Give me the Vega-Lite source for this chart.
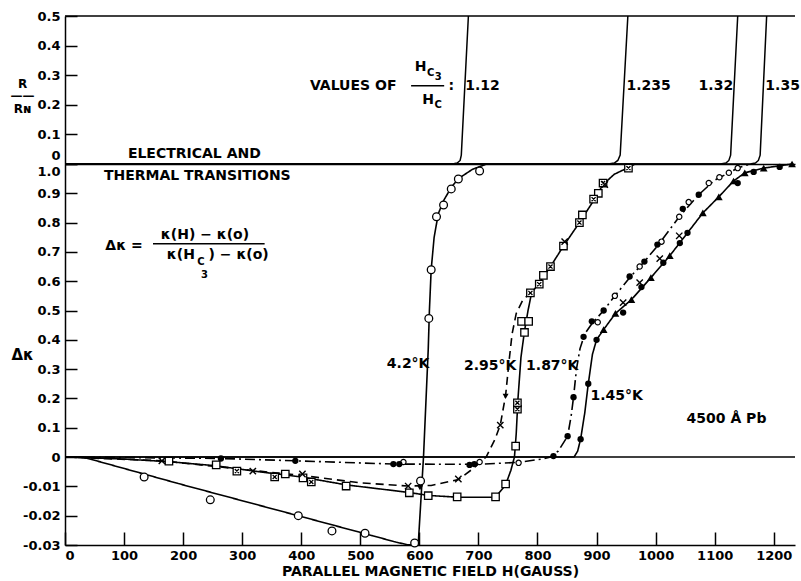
{
  "$schema": "https://vega.github.io/schema/vega-lite/v6.json",
  "background": "white",
  "padding": {"left": 10, "top": 10, "right": 0, "bottom": 0},
  "spacing": 0,
  "bounds": "flush",
  "config": {
    "view": {"stroke": null},
    "axis": {"domainColor": "black", "domainWidth": 1.5, "tickColor": "black", "tickWidth": 1.5, "labelColor": "black", "labelFont": "DejaVu Sans", "labelFontWeight": "bold", "labelFontSize": 13, "titleFont": "DejaVu Sans", "titleFontWeight": "bold", "titleColor": "black", "grid": false}
  },
  "datasets": {
    "tl": [
      {"c": "T1", "H": 0, "R": 0}, {"c": "T1", "H": 656, "R": 0}, {"c": "T1", "H": 664, "R": 0.003}, {"c": "T1", "H": 669, "R": 0.012}, {"c": "T1", "H": 671, "R": 0.03}, {"c": "T1", "H": 683, "R": 0.5},
      {"c": "T2", "H": 0, "R": 0}, {"c": "T2", "H": 920, "R": 0}, {"c": "T2", "H": 930, "R": 0.003}, {"c": "T2", "H": 936, "R": 0.012}, {"c": "T2", "H": 940, "R": 0.03}, {"c": "T2", "H": 953, "R": 0.5},
      {"c": "T3", "H": 0, "R": 0}, {"c": "T3", "H": 1110, "R": 0}, {"c": "T3", "H": 1119, "R": 0.003}, {"c": "T3", "H": 1124, "R": 0.012}, {"c": "T3", "H": 1127, "R": 0.03}, {"c": "T3", "H": 1139, "R": 0.5},
      {"c": "T4", "H": 0, "R": 0}, {"c": "T4", "H": 1160, "R": 0}, {"c": "T4", "H": 1169, "R": 0.003}, {"c": "T4", "H": 1174, "R": 0.012}, {"c": "T4", "H": 1177, "R": 0.03}, {"c": "T4", "H": 1188, "R": 0.5}
    ],
    "tt": [
      {"H": 488, "R": 0.264, "t": "VALUES OF", "k": "n"},
      {"H": 602, "R": 0.329, "t": "H", "k": "n"},
      {"H": 619, "R": 0.307, "t": "C", "k": "s"},
      {"H": 632, "R": 0.294, "t": "3", "k": "s"},
      {"H": 615, "R": 0.216, "t": "H", "k": "n"},
      {"H": 632, "R": 0.199, "t": "C", "k": "s"},
      {"H": 654, "R": 0.264, "t": ":", "k": "n"},
      {"H": 707, "R": 0.264, "t": "1.12", "k": "n"},
      {"H": 988, "R": 0.264, "t": "1.235", "k": "n"},
      {"H": 1102, "R": 0.264, "t": "1.32", "k": "n"},
      {"H": 1215, "R": 0.264, "t": "1.35", "k": "n"},
      {"H": 219, "R": 0.034, "t": "ELECTRICAL AND", "k": "n"}
    ],
    "tr": [
      {"H": 0, "H2": 1236, "R": 0.5},
      {"H": 586, "H2": 642, "R": 0.264}
    ],
    "bl": [
      {"c": "A", "H": 0, "v": 0}, {"c": "A", "H": 30, "v": 0}, {"c": "A", "H": 200, "v": -0.0095}, {"c": "A", "H": 400, "v": -0.0203}, {"c": "A", "H": 520, "v": -0.0268}, {"c": "A", "H": 560, "v": -0.029}, {"c": "A", "H": 580, "v": -0.0299}, {"c": "A", "H": 598, "v": -0.03}, {"c": "A", "H": 607, "v": 0}, {"c": "A", "H": 615, "v": 0.367}, {"c": "A", "H": 617, "v": 0.5}, {"c": "A", "H": 620, "v": 0.64}, {"c": "A", "H": 625, "v": 0.75}, {"c": "A", "H": 632, "v": 0.83}, {"c": "A", "H": 641, "v": 0.875}, {"c": "A", "H": 654, "v": 0.92}, {"c": "A", "H": 666, "v": 0.95}, {"c": "A", "H": 690, "v": 0.982}, {"c": "A", "H": 714, "v": 1.0},
      {"c": "B", "H": 0, "v": 0}, {"c": "B", "H": 100, "v": -0.0007}, {"c": "B", "H": 176, "v": -0.0016}, {"c": "B", "H": 256, "v": -0.003}, {"c": "B", "H": 320, "v": -0.0048}, {"c": "B", "H": 400, "v": -0.0068}, {"c": "B", "H": 476, "v": -0.0095}, {"c": "B", "H": 583, "v": -0.0121}, {"c": "B", "H": 615, "v": -0.0131}, {"c": "B", "H": 664, "v": -0.0137}, {"c": "B", "H": 729, "v": -0.0137}, {"c": "B", "H": 746, "v": -0.0095}, {"c": "B", "H": 755, "v": -0.0045}, {"c": "B", "H": 761, "v": 0}, {"c": "B", "H": 764, "v": 0.08}, {"c": "B", "H": 767, "v": 0.2}, {"c": "B", "H": 772, "v": 0.34}, {"c": "B", "H": 778, "v": 0.43}, {"c": "B", "H": 784, "v": 0.5}, {"c": "B", "H": 790, "v": 0.56}, {"c": "B", "H": 803, "v": 0.595}, {"c": "B", "H": 822, "v": 0.65}, {"c": "B", "H": 844, "v": 0.72}, {"c": "B", "H": 871, "v": 0.8}, {"c": "B", "H": 895, "v": 0.875}, {"c": "B", "H": 911, "v": 0.93}, {"c": "B", "H": 930, "v": 0.965}, {"c": "B", "H": 954, "v": 0.988}, {"c": "B", "H": 965, "v": 1.0},
      {"c": "C", "H": 0, "v": 0}, {"c": "C", "H": 164, "v": -0.0013}, {"c": "C", "H": 318, "v": -0.0046}, {"c": "C", "H": 402, "v": -0.0063}, {"c": "C", "H": 500, "v": -0.0088}, {"c": "C", "H": 581, "v": -0.0099}, {"c": "C", "H": 620, "v": -0.0097}, {"c": "C", "H": 666, "v": -0.0077}, {"c": "C", "H": 692, "v": -0.0038}, {"c": "C", "H": 713, "v": 0}, {"c": "C", "H": 728, "v": 0.06}, {"c": "C", "H": 737, "v": 0.109}, {"c": "C", "H": 746, "v": 0.21}, {"c": "C", "H": 752, "v": 0.33}, {"c": "C", "H": 757, "v": 0.42}, {"c": "C", "H": 764, "v": 0.49}, {"c": "C", "H": 775, "v": 0.535}, {"c": "C", "H": 790, "v": 0.565},
      {"c": "D", "H": 0, "v": 0}, {"c": "D", "H": 264, "v": -0.0005}, {"c": "D", "H": 390, "v": -0.0013}, {"c": "D", "H": 556, "v": -0.0024}, {"c": "D", "H": 700, "v": -0.0025}, {"c": "D", "H": 770, "v": -0.0018}, {"c": "D", "H": 810, "v": -0.0006}, {"c": "D", "H": 822, "v": 0}, {"c": "D", "H": 835, "v": 0.02}, {"c": "D", "H": 851, "v": 0.071}, {"c": "D", "H": 857, "v": 0.14}, {"c": "D", "H": 861, "v": 0.204}, {"c": "D", "H": 866, "v": 0.3}, {"c": "D", "H": 872, "v": 0.37}, {"c": "D", "H": 880, "v": 0.42}, {"c": "D", "H": 892, "v": 0.455}, {"c": "D", "H": 912, "v": 0.5}, {"c": "D", "H": 931, "v": 0.55}, {"c": "D", "H": 956, "v": 0.612}, {"c": "D", "H": 981, "v": 0.667}, {"c": "D", "H": 1003, "v": 0.72}, {"c": "D", "H": 1040, "v": 0.82}, {"c": "D", "H": 1073, "v": 0.895}, {"c": "D", "H": 1100, "v": 0.945}, {"c": "D", "H": 1124, "v": 0.97}, {"c": "D", "H": 1139, "v": 0.986}, {"c": "D", "H": 1160, "v": 1.0},
      {"c": "E", "H": 0, "v": 0}, {"c": "E", "H": 862, "v": 0}, {"c": "E", "H": 868, "v": 0.02}, {"c": "E", "H": 873, "v": 0.061}, {"c": "E", "H": 880, "v": 0.15}, {"c": "E", "H": 886, "v": 0.25}, {"c": "E", "H": 893, "v": 0.35}, {"c": "E", "H": 900, "v": 0.4}, {"c": "E", "H": 912, "v": 0.435}, {"c": "E", "H": 932, "v": 0.49}, {"c": "E", "H": 959, "v": 0.537}, {"c": "E", "H": 992, "v": 0.612}, {"c": "E", "H": 1024, "v": 0.687}, {"c": "E", "H": 1054, "v": 0.765}, {"c": "E", "H": 1080, "v": 0.833}, {"c": "E", "H": 1107, "v": 0.888}, {"c": "E", "H": 1132, "v": 0.942}, {"c": "E", "H": 1151, "v": 0.97}, {"c": "E", "H": 1183, "v": 0.986}, {"c": "E", "H": 1231, "v": 1.0}
    ],
    "bp": [
      {"m": "oc", "H": 134, "v": -0.0068}, {"m": "oc", "H": 246, "v": -0.0146}, {"m": "oc", "H": 395, "v": -0.02}, {"m": "oc", "H": 452, "v": -0.0252}, {"m": "oc", "H": 508, "v": -0.026}, {"m": "oc", "H": 592, "v": -0.0293}, {"m": "oc", "H": 602, "v": -0.0082}, {"m": "oc", "H": 616, "v": 0.473}, {"m": "oc", "H": 620, "v": 0.639}, {"m": "oc", "H": 629, "v": 0.82}, {"m": "oc", "H": 641, "v": 0.86}, {"m": "oc", "H": 654, "v": 0.915}, {"m": "oc", "H": 666, "v": 0.949}, {"m": "oc", "H": 702, "v": 0.976},
      {"m": "ar", "H": 601, "v": -0.0105}, {"m": "ar", "H": 746, "v": 0.207},
      {"m": "sq", "H": 176, "v": -0.0014}, {"m": "sq", "H": 256, "v": -0.0027}, {"m": "sq", "H": 373, "v": -0.0058}, {"m": "sq", "H": 403, "v": -0.0071}, {"m": "sq", "H": 476, "v": -0.0099}, {"m": "sq", "H": 583, "v": -0.0122}, {"m": "sq", "H": 615, "v": -0.0132}, {"m": "sq", "H": 664, "v": -0.0136}, {"m": "sq", "H": 729, "v": -0.0136}, {"m": "sq", "H": 746, "v": -0.0092}, {"m": "sq", "H": 763, "v": 0.037}, {"m": "sq", "H": 778, "v": 0.425}, {"m": "sq", "H": 773, "v": 0.463}, {"m": "sq", "H": 785, "v": 0.463}, {"m": "sq", "H": 810, "v": 0.62}, {"m": "sq", "H": 844, "v": 0.72}, {"m": "sq", "H": 876, "v": 0.826}, {"m": "sq", "H": 903, "v": 0.9},
      {"m": "bx", "H": 291, "v": -0.0048}, {"m": "bx", "H": 355, "v": -0.0068}, {"m": "bx", "H": 417, "v": -0.0085}, {"m": "bx", "H": 766, "v": 0.163}, {"m": "bx", "H": 766, "v": 0.185}, {"m": "bx", "H": 788, "v": 0.56}, {"m": "bx", "H": 803, "v": 0.59}, {"m": "bx", "H": 822, "v": 0.65}, {"m": "bx", "H": 871, "v": 0.8}, {"m": "bx", "H": 895, "v": 0.88}, {"m": "bx", "H": 911, "v": 0.935}, {"m": "bx", "H": 954, "v": 0.986},
      {"m": "x", "H": 164, "v": -0.0013}, {"m": "x", "H": 318, "v": -0.0048}, {"m": "x", "H": 402, "v": -0.0058}, {"m": "x", "H": 581, "v": -0.0099}, {"m": "x", "H": 666, "v": -0.0075}, {"m": "x", "H": 737, "v": 0.109}, {"m": "x", "H": 846, "v": 0.735}, {"m": "x", "H": 914, "v": 0.93}, {"m": "x", "H": 945, "v": 0.527}, {"m": "x", "H": 973, "v": 0.595}, {"m": "x", "H": 1007, "v": 0.677}, {"m": "x", "H": 1040, "v": 0.755},
      {"m": "fc", "H": 264, "v": -0.0005}, {"m": "fc", "H": 390, "v": -0.0013}, {"m": "fc", "H": 556, "v": -0.0024}, {"m": "fc", "H": 566, "v": -0.0024}, {"m": "fc", "H": 685, "v": -0.0027}, {"m": "fc", "H": 693, "v": -0.0024}, {"m": "fc", "H": 827, "v": 0.003}, {"m": "fc", "H": 851, "v": 0.071}, {"m": "fc", "H": 861, "v": 0.204}, {"m": "fc", "H": 878, "v": 0.41}, {"m": "fc", "H": 892, "v": 0.463}, {"m": "fc", "H": 912, "v": 0.5}, {"m": "fc", "H": 956, "v": 0.616}, {"m": "fc", "H": 981, "v": 0.667}, {"m": "fc", "H": 1003, "v": 0.725}, {"m": "fc", "H": 1046, "v": 0.847}, {"m": "fc", "H": 1073, "v": 0.895}, {"m": "fc", "H": 873, "v": 0.061}, {"m": "fc", "H": 886, "v": 0.25}, {"m": "fc", "H": 900, "v": 0.4}, {"m": "fc", "H": 945, "v": 0.493}, {"m": "fc", "H": 976, "v": 0.58}, {"m": "fc", "H": 1013, "v": 0.663}, {"m": "fc", "H": 1041, "v": 0.73}, {"m": "fc", "H": 1054, "v": 0.765}, {"m": "fc", "H": 1139, "v": 0.935}, {"m": "fc", "H": 1166, "v": 0.973}, {"m": "fc", "H": 1210, "v": 0.99},
      {"m": "so", "H": 573, "v": -0.0017}, {"m": "so", "H": 702, "v": -0.0017}, {"m": "so", "H": 768, "v": -0.002}, {"m": "so", "H": 902, "v": 0.46}, {"m": "so", "H": 931, "v": 0.55}, {"m": "so", "H": 973, "v": 0.65}, {"m": "so", "H": 1010, "v": 0.735}, {"m": "so", "H": 1040, "v": 0.82}, {"m": "so", "H": 1056, "v": 0.87}, {"m": "so", "H": 1090, "v": 0.935}, {"m": "so", "H": 1108, "v": 0.955}, {"m": "so", "H": 1124, "v": 0.97}, {"m": "so", "H": 1139, "v": 0.986},
      {"m": "tr", "H": 912, "v": 0.435}, {"m": "tr", "H": 932, "v": 0.49}, {"m": "tr", "H": 959, "v": 0.537}, {"m": "tr", "H": 992, "v": 0.612}, {"m": "tr", "H": 1024, "v": 0.687}, {"m": "tr", "H": 1080, "v": 0.833}, {"m": "tr", "H": 1107, "v": 0.888}, {"m": "tr", "H": 1132, "v": 0.942}, {"m": "tr", "H": 1151, "v": 0.97}, {"m": "tr", "H": 1183, "v": 0.986}, {"m": "tr", "H": 1231, "v": 1.0}
    ],
    "bt": [
      {"H": 224, "v": 0.959, "t": "THERMAL TRANSITIONS", "k": "n"},
      {"H": 100, "v": 0.721, "t": "Δκ =", "k": "n"},
      {"H": 237, "v": 0.758, "t": "κ(H) − κ(o)", "k": "n"},
      {"H": 220, "v": 0.69, "t": "κ(H", "k": "r"},
      {"H": 243, "v": 0.69, "t": ") − κ(o)", "k": "l"},
      {"H": 230, "v": 0.664, "t": "C", "k": "s"},
      {"H": 236, "v": 0.622, "t": "3", "k": "s"},
      {"H": 581, "v": 0.316, "t": "4.2°K", "k": "n"},
      {"H": 720, "v": 0.31, "t": "2.95°K", "k": "n"},
      {"H": 825, "v": 0.31, "t": "1.87°K", "k": "n"},
      {"H": 934, "v": 0.207, "t": "1.45°K", "k": "n"},
      {"H": 1120, "v": 0.129, "t": "4500 Å Pb", "k": "n"}
    ],
    "br": [
      {"H": 0, "H2": 1236, "v": 0},
      {"H": 149, "H2": 338, "v": 0.728}
    ]
  },
  "vconcat": [
    {
      "width": 730,
      "height": 148,
      "encoding": {
        "x": {"field": "H", "type": "quantitative", "scale": {"domain": [0, 1236], "nice": false, "zero": false}, "axis": {"title": null, "labels": false, "ticks": false, "domain": true}},
        "y": {"field": "R", "type": "quantitative", "scale": {"domain": [0, 0.5], "nice": false}, "axis": {"values": [0, 0.1, 0.2, 0.3, 0.4, 0.5], "labelExpr": "datum.value == 0 ? '0' : format(datum.value, '.1f')", "tickSize": -12, "labelPadding": 17, "labelBaseline": {"condition": {"test": "datum.value == 0", "value": "bottom"}, "value": "middle"}, "labelOffset": {"condition": {"test": "datum.value == 0", "value": -2}, "value": 0}, "title": ["R", "——", "Rɴ"], "titleAngle": 0, "titleAlign": "center", "titleBaseline": "middle", "titleX": -43, "titleY": 67, "titleFontSize": 12, "titleLineHeight": 12.5}}
      },
      "layer": [
        {"data": {"name": "tl"}, "mark": {"type": "line", "color": "black", "strokeWidth": 1.5}, "encoding": {"detail": {"field": "c"}}},
        {"data": {"name": "tr"}, "mark": {"type": "rule", "color": "black", "strokeWidth": 1.5}, "encoding": {"x2": {"field": "H2"}}},
        {"data": {"name": "tt"}, "transform": [{"filter": "datum.k == 'n'"}], "mark": {"type": "text", "font": "DejaVu Sans", "fontWeight": "bold", "fontSize": 14, "fill": "black", "align": "center", "baseline": "middle"}, "encoding": {"text": {"field": "t"}}},
        {"data": {"name": "tt"}, "transform": [{"filter": "datum.k == 's'"}], "mark": {"type": "text", "font": "DejaVu Sans", "fontWeight": "bold", "fontSize": 10, "fill": "black", "align": "center", "baseline": "middle"}, "encoding": {"text": {"field": "t"}}}
      ]
    },
    {
      "width": 730,
      "height": 381,
      "encoding": {
        "x": {"field": "H", "type": "quantitative", "scale": {"domain": [0, 1236], "nice": false, "zero": false}, "axis": {"values": [0, 100, 200, 300, 400, 500, 600, 700, 800, 900, 1000, 1100, 1200], "format": "d", "tickSize": -13, "labelPadding": 17, "title": "PARALLEL MAGNETIC FIELD  H(GAUSS)", "titleFontSize": 14, "titlePadding": 2}},
        "y": {"field": "v", "type": "quantitative", "scale": {"domain": [-0.03, 0, 1], "range": [381, 293, 0], "nice": false, "zero": false}, "axis": {"values": [-0.03, -0.02, -0.01, 0, 0.1, 0.2, 0.3, 0.4, 0.5, 0.6, 0.7, 0.8, 0.9, 1], "labelExpr": "datum.value == 0 ? '0' : datum.value == 1 ? '1.0' : (datum.value < 0 ? '-' + format(-datum.value, '.2f') : format(datum.value, '.1f'))", "tickSize": -12, "labelPadding": 17, "labelBaseline": {"condition": {"test": "datum.value == 1", "value": "top"}, "value": "middle"}, "labelOffset": {"condition": {"test": "datum.value == 1", "value": 1}, "value": 0}, "title": "Δκ", "titleAngle": 0, "titleAlign": "center", "titleBaseline": "middle", "titleX": -43, "titleY": 190, "titleFontSize": 15}}
      },
      "layer": [
        {"data": {"name": "br"}, "mark": {"type": "rule", "color": "black", "strokeWidth": 1.5}, "encoding": {"x2": {"field": "H2"}}},
        {"data": {"name": "bl"}, "mark": {"type": "line", "color": "black", "strokeWidth": 1.6}, "encoding": {"detail": {"field": "c"}, "strokeDash": {"field": "c", "type": "nominal", "scale": {"domain": ["A", "B", "C", "D", "E"], "range": [[1, 0], [1, 0], [8, 5], [10, 4, 2, 4], [1, 0]]}, "legend": null}}},
        {"data": {"name": "bp"}, "transform": [{"filter": "datum.m == 'oc'"}], "mark": {"type": "point", "shape": "circle", "size": 60, "filled": true, "fill": "white", "stroke": "black", "strokeWidth": 1.3, "opacity": 1}},
        {"data": {"name": "bp"}, "transform": [{"filter": "datum.m == 'sq'"}], "mark": {"type": "point", "shape": "square", "size": 55, "filled": true, "fill": "white", "stroke": "black", "strokeWidth": 1.3, "opacity": 1}},
        {"data": {"name": "bp"}, "transform": [{"filter": "datum.m == 'bx'"}], "mark": {"type": "point", "shape": "M-1,-1H1V1H-1Z M-0.55,-0.55L0.55,0.55 M-0.55,0.55L0.55,-0.55", "size": 55, "filled": true, "fill": "white", "stroke": "black", "strokeWidth": 1.3, "opacity": 1}},
        {"data": {"name": "bp"}, "transform": [{"filter": "datum.m == 'x'"}], "mark": {"type": "point", "shape": "M-1,-1L1,1M-1,1L1,-1", "size": 40, "filled": false, "stroke": "black", "strokeWidth": 1.4, "opacity": 1}},
        {"data": {"name": "bp"}, "transform": [{"filter": "datum.m == 'so'"}], "mark": {"type": "point", "shape": "circle", "size": 28, "filled": true, "fill": "white", "stroke": "black", "strokeWidth": 1.2, "opacity": 1}},
        {"data": {"name": "bp"}, "transform": [{"filter": "datum.m == 'fc'"}], "mark": {"type": "point", "shape": "circle", "size": 40, "filled": true, "fill": "black", "opacity": 1}},
        {"data": {"name": "bp"}, "transform": [{"filter": "datum.m == 'tr'"}], "mark": {"type": "point", "shape": "triangle-up", "size": 60, "filled": true, "fill": "black", "opacity": 1}},
        {"data": {"name": "bp"}, "transform": [{"filter": "datum.m == 'ar'"}], "mark": {"type": "point", "shape": "triangle-down", "size": 35, "filled": true, "fill": "black", "opacity": 1}},
        {"data": {"name": "bt"}, "transform": [{"filter": "datum.k == 'n'"}], "mark": {"type": "text", "font": "DejaVu Sans", "fontWeight": "bold", "fontSize": 14, "fill": "black", "align": "center", "baseline": "middle"}, "encoding": {"text": {"field": "t"}}},
        {"data": {"name": "bt"}, "transform": [{"filter": "datum.k == 'r'"}], "mark": {"type": "text", "font": "DejaVu Sans", "fontWeight": "bold", "fontSize": 14, "fill": "black", "align": "right", "baseline": "middle"}, "encoding": {"text": {"field": "t"}}},
        {"data": {"name": "bt"}, "transform": [{"filter": "datum.k == 'l'"}], "mark": {"type": "text", "font": "DejaVu Sans", "fontWeight": "bold", "fontSize": 14, "fill": "black", "align": "left", "baseline": "middle"}, "encoding": {"text": {"field": "t"}}},
        {"data": {"name": "bt"}, "transform": [{"filter": "datum.k == 's'"}], "mark": {"type": "text", "font": "DejaVu Sans", "fontWeight": "bold", "fontSize": 10, "fill": "black", "align": "center", "baseline": "middle"}, "encoding": {"text": {"field": "t"}}}
      ]
    }
  ]
}
